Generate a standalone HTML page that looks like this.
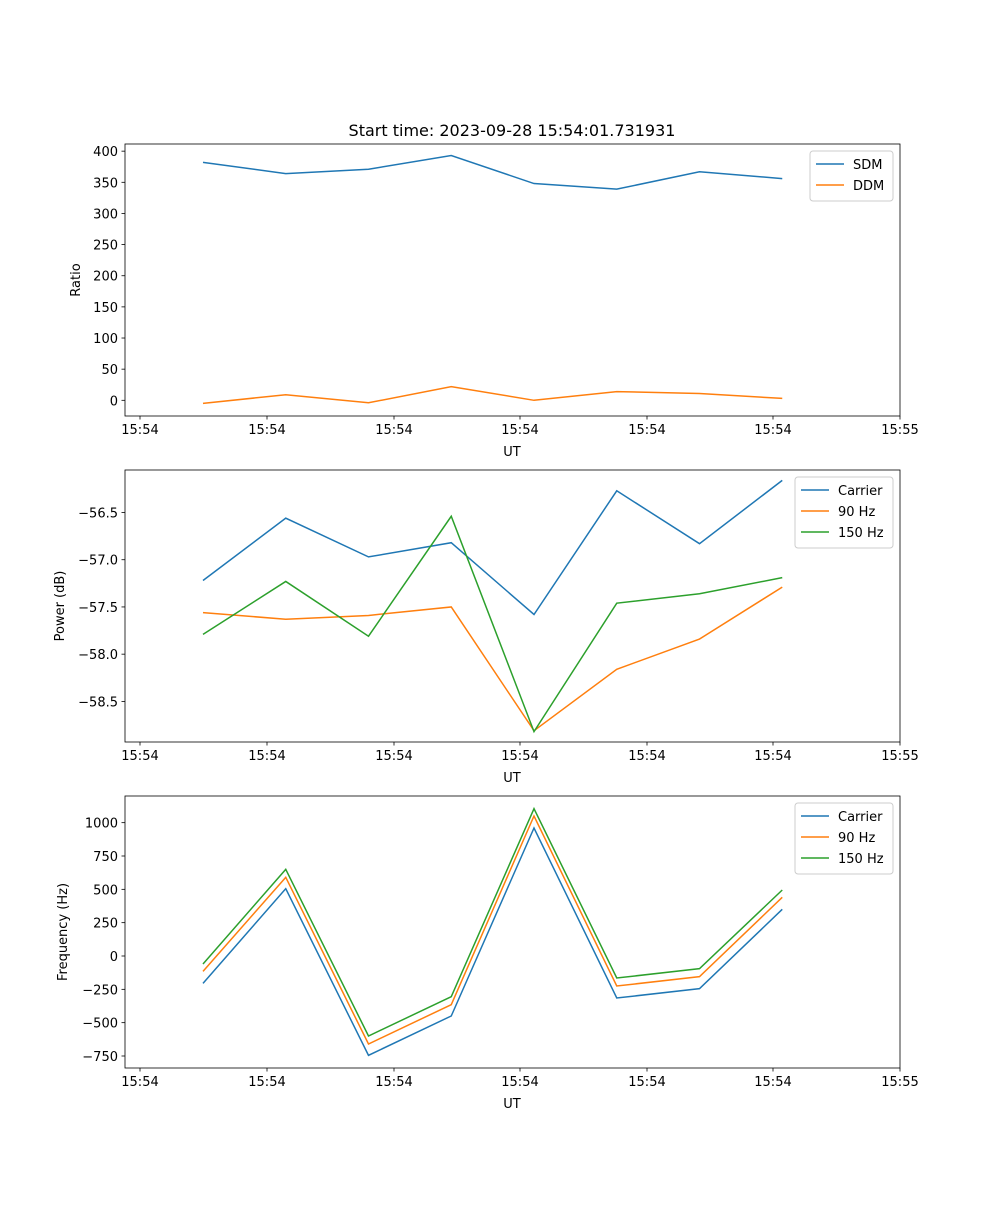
<!DOCTYPE html>
<html><head><meta charset="utf-8"><style>
body{margin:0;background:#fff}
svg text{font-family:"DejaVu Sans","Liberation Sans",sans-serif;fill:#000}
</style></head><body>
<svg id="fig" width="1000" height="1200" viewBox="0 0 1000 1200" xmlns="http://www.w3.org/2000/svg">
<text x="512" y="136" font-size="16" text-anchor="middle">Start time: 2023-09-28 15:54:01.731931</text>
</svg>
<script>
const xTickLabels=["15:54","15:54","15:54","15:54","15:54","15:54","15:55"];
const sdm=[382,364,371,393,348,339,367,356];
const ddm=[-5,9,-4,22,0,14,11,3];
const pCarrier=[-57.22,-56.56,-56.97,-56.82,-57.58,-56.27,-56.83,-56.16];
const p90=[-57.56,-57.63,-57.59,-57.50,-58.81,-58.16,-57.84,-57.29];
const p150=[-57.79,-57.23,-57.81,-56.54,-58.82,-57.46,-57.36,-57.19];
const fCarrier=[-205,505,-745,-450,960,-315,-245,350];
const f90=[-115,590,-660,-365,1050,-225,-155,440];
const f150=[-60,650,-600,-305,1105,-165,-95,495];
const ticks1=[0,50,100,150,200,250,300,350,400];
const ticks2=[-58.5,-58.0,-57.5,-57.0,-56.5];
const ticks3=[-750,-500,-250,0,250,500,750,1000];
const C=["#1f77b4","#ff7f0e","#2ca02c"];
const svg=document.getElementById('fig');
const NS="http://www.w3.org/2000/svg";
function mk(t,a,p){const e=document.createElementNS(NS,t);for(const k in a)e.setAttribute(k,a[k]);(p||svg).appendChild(e);return e;}
const X0=125,X1=900;
// x axis: index -0.75 .. 8.6 approx; points at 203 + i*82.7
function xs(i){return 203+i*82.75;}
const xTickPx=[140,267,394,520,647,773,900];
function panel(name,top,ymin,ymax,yticks,fmt,ylabel,series,names,legW,legLabels){
  const bot=top+272;
  const ys=v=>bot-(v-ymin)/(ymax-ymin)*272;
  const g=mk('g',{});
  
  
  series.forEach((s,k)=>{
    const pl=mk('polyline',{points:s.map((v,i)=>xs(i)+','+ys(v)).join(' '),fill:'none',stroke:C[k],'stroke-width':1.5},g);
    
    
  });
  const fr=mk('rect',{x:X0,y:top,width:X1-X0,height:272,fill:'none',stroke:'#000','stroke-width':0.8},g);
  
  
  xTickPx.forEach((px,i)=>{
    mk('line',{x1:px,x2:px,y1:bot,y2:bot+3.5,stroke:'#000','stroke-width':0.8},g);
    const t=mk('text',{x:px,y:bot+18,'font-size':13,'text-anchor':'middle'},g);t.textContent=xTickLabels[i];
    
    
  });
  yticks.forEach(v=>{
    const py=ys(v);
    mk('line',{x1:X0-3.5,x2:X0,y1:py,y2:py,stroke:'#000','stroke-width':0.8},g);
    const t=mk('text',{x:X0-7,y:py+5,'font-size':13,'text-anchor':'end'},g);t.textContent=fmt(v);
    
    
  });
  const xl=mk('text',{x:512,y:bot+40,'font-size':13,'text-anchor':'middle'},g);xl.textContent='UT';
  
  
  const yl=mk('text',{x:0,y:0,'font-size':13,'text-anchor':'middle',transform:`translate(${ylabel[1]},${top+136}) rotate(-90)`},g);yl.textContent=ylabel[0];
  
  
  const lx=X1-7-legW, ly=top+7, lh=legLabels.length*21+8;
  const lg=mk('g',{},g);
  
  
  mk('rect',{x:lx,y:ly,width:legW,height:lh,rx:3,fill:'#fff','fill-opacity':0.8,stroke:'#ccc'},lg);
  legLabels.forEach((l,k)=>{
    const cy=ly+13+k*21;
    mk('line',{x1:lx+6,x2:lx+34,y1:cy,y2:cy,stroke:C[k],'stroke-width':1.5},lg);
    const t=mk('text',{x:lx+43,y:cy+5,'font-size':13},lg);t.textContent=l;
    
    
  });
}
panel('ratio-panel',144,-25.2,411.5,ticks1,v=>String(v),['Ratio',80],[sdm,ddm],['sdm-line','ddm-line'],83,['SDM','DDM']);
panel('power-panel',470,-58.93,-56.05,ticks2,v=>'\u2212'+Math.abs(v).toFixed(1),['Power (dB)',64],[pCarrier,p90,p150],['carrier-power-line','90hz-power-line','150hz-power-line'],98,['Carrier','90 Hz','150 Hz']);
panel('frequency-panel',796,-840,1200,ticks3,v=>v<0?'\u2212'+Math.abs(v):String(v),['Frequency (Hz)',67],[fCarrier,f90,f150],['carrier-freq-line','90hz-freq-line','150hz-freq-line'],98,['Carrier','90 Hz','150 Hz']);
</script>
</body></html>
